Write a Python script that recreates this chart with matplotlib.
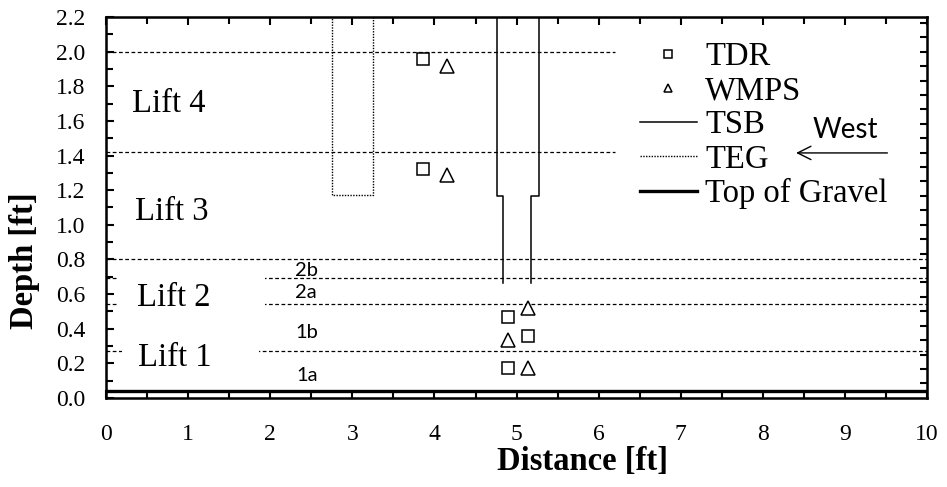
import numpy as np
import matplotlib
matplotlib.use("Agg")
import matplotlib.pyplot as plt
from matplotlib.patches import Rectangle

plt.rcParams['font.family'] = ['Liberation Serif', 'DejaVu Serif']

# sensor positions (distance ft, depth ft)
tdr_x = [3.86, 3.86, 4.89, 5.14, 4.89]
tdr_y = [1.96, 1.32, 0.47, 0.36, 0.17]
wmps_x = [4.15, 4.15, 5.14, 4.89, 5.14]
wmps_y = [1.915, 1.285, 0.52, 0.335, 0.175]

# TSB outline (two walls), TEG outline
tsb_left_x = [4.76, 4.76, 4.83, 4.83]
tsb_left_y = [2.4, 1.165, 1.165, 0.665]
tsb_right_x = [5.27, 5.27, 5.18, 5.18]
tsb_right_y = [2.4, 1.165, 1.165, 0.665]
teg_x = [2.75, 2.75, 3.25, 3.25]
teg_y = [2.4, 1.17, 1.17, 2.4]

gravel_y = 0.04

# lift boundaries: depth, start x, end x
bound_y = [2.0, 1.42, 0.8, 0.69, 0.54, 0.27]
bound_x0 = [0, 0, 0, 0, 0, 0]
bound_x1 = [6.2, 6.2, 10, 10, 10, 10]

lift_labels = ['Lift 4', 'Lift 3', 'Lift 2', 'Lift 1']
lift_x = [0.76, 0.80, 0.82, 0.84]
lift_y = [1.70, 1.075, 0.58, 0.23]

sub_labels = ['2b', '2a', '1b', '1a']
sub_x = [2.44, 2.43, 2.45, 2.45]
sub_y = [0.735, 0.61, 0.375, 0.13]

fig = plt.figure(figsize=(9.47, 4.87), dpi=100)
ax = fig.add_axes([0.112, 0.183, 0.867, 0.782])

for y, x0, x1 in zip(bound_y, bound_x0, bound_x1):
    ax.plot([x0, x1], [y, y], color='black', lw=0.9, ls=(0, (3, 2)), zorder=1)

# white boxes behind the lift 2 / lift 1 labels
ax.add_patch(Rectangle((0.15, 0.45), 1.79, 0.3, facecolor='white', edgecolor='none', zorder=2))
ax.add_patch(Rectangle((0.2, 0.1), 1.66, 0.25, facecolor='white', edgecolor='none', zorder=2))

ax.plot(tdr_x, tdr_y, ls='none', marker='s', ms=8.5, mfc='white', mec='black', mew=1.1,
        label='TDR', zorder=4)
ax.plot(wmps_x, wmps_y, ls='none', marker='^', ms=9.5, mfc='white', mec='black', mew=1.1,
        label='WMPS', zorder=4)
ax.plot(tsb_left_x, tsb_left_y, color='black', lw=1.1, label='TSB', zorder=3)
ax.plot(tsb_right_x, tsb_right_y, color='black', lw=1.1, zorder=3)
ax.plot(teg_x, teg_y, color='black', lw=1.0, ls=(0, (1, 1)), label='TEG', zorder=3)
ax.plot([0, 10], [gravel_y, gravel_y], color='black', lw=2.4, label='Top of Gravel', zorder=3)

for t, x, y in zip(lift_labels, lift_x, lift_y):
    ax.text(x, y, t, fontsize=23.5, ha='center', va='center', zorder=5)
for t, x, y in zip(sub_labels, sub_x, sub_y):
    ax.text(x, y, t, fontsize=14.5, family=['Lato', 'DejaVu Sans'], ha='center', va='center', zorder=5)

ax.annotate('', xy=(8.37, 1.415), xytext=(9.55, 1.415),
            arrowprops=dict(arrowstyle='->', color='black', lw=1.0, mutation_scale=24))
ax.text(9.0, 1.55, 'West', fontsize=20, family=['Lato', 'DejaVu Sans'], ha='center', va='center')

ax.set_xlim(0, 10)
ax.set_ylim(0, 2.2)
ax.set_xticks(np.arange(0, 11, 1))
ax.set_xticks(np.arange(0, 10.01, 0.5), minor=True)
ax.set_yticks(np.arange(0, 2.21, 0.2))
ax.set_yticks(np.arange(0, 2.21, 0.1), minor=True)
ax.set_yticklabels([f'{v:.1f}' for v in np.arange(0, 2.21, 0.2)])
ax.tick_params(which='both', direction='in', top=True, right=False, width=1.5)
ax.tick_params(which='major', length=6)
ax.tick_params(which='minor', length=5)
ax.tick_params(axis='x', which='major', labelsize=17, pad=19)
ax.tick_params(axis='y', which='major', labelsize=17, pad=15)
for s in ax.spines.values():
    s.set_linewidth(1.8)

# right side ticks (no labels)
ax2 = ax.twinx()
ax2.set_ylim(0, 2.2)
ax2.set_yticks(np.arange(1 / 12, 2.2, 1 / 12))
ax2.tick_params(direction='in', length=5, width=1.5, labelright=False)

ax.set_xlabel('Distance [ft]', fontsize=23.5, fontweight='bold')
ax.xaxis.set_label_coords(0.58, -0.168)
ax.xaxis.label.set_va('center')
ax.set_ylabel('Depth [ft]', fontsize=23.5, fontweight='bold')
ax.yaxis.set_label_coords(-0.099, 0.36)
ax.yaxis.label.set_va('center')

ax.legend(loc='upper left', bbox_to_anchor=(0.650, 0.935), frameon=False, fontsize=23.5,
          handlelength=1.75, handletextpad=0.25, labelspacing=0.11, borderpad=0,
          borderaxespad=0, markerscale=0.6)

fig.savefig('out.png', dpi=100)
